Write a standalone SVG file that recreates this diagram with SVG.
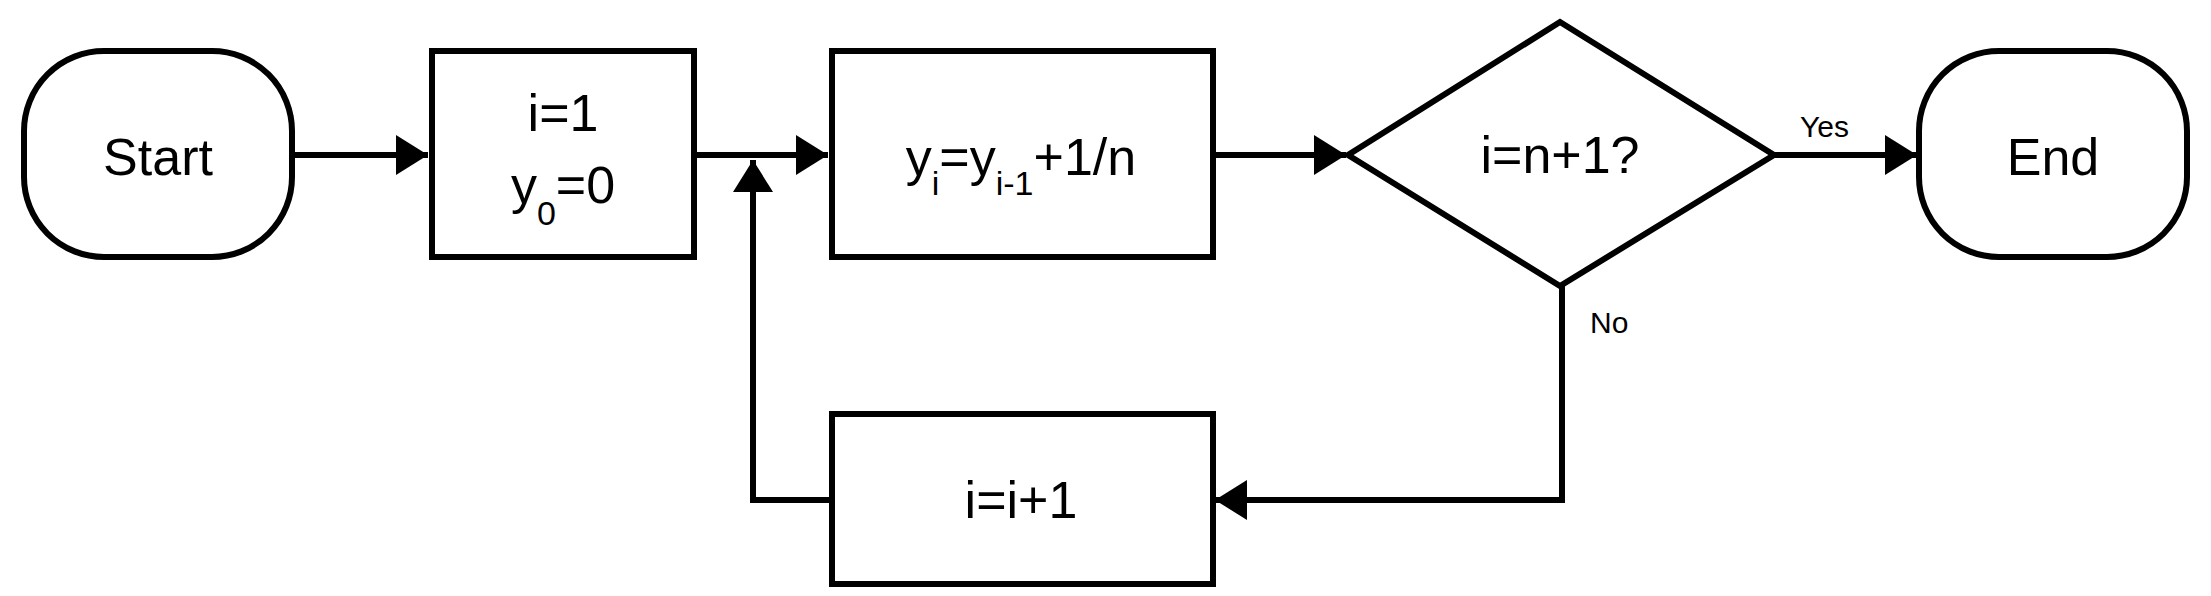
<svg xmlns="http://www.w3.org/2000/svg" width="2211" height="596" viewBox="0 0 2211 596">
<style>
.s{fill:#fff;stroke:#000;stroke-width:6}
.c{fill:none;stroke:#000;stroke-width:6}
text{font-family:"Liberation Sans",Arial,sans-serif;font-size:52px;fill:#000;text-anchor:middle}
.sm{font-size:30px;text-anchor:start}
</style>
<defs><marker id="a" markerUnits="userSpaceOnUse" markerWidth="34" markerHeight="40" refX="32" refY="20" orient="auto"><path d="M0,0L32,20L0,40z" fill="#000"/></marker></defs>
<g id="connectors">
<path class="c" d="M293,155H428" marker-end="url(#a)"/>
<path class="c" d="M694,155H828" marker-end="url(#a)"/>
<path class="c" d="M1213,155H1346" marker-end="url(#a)"/>
<path class="c" d="M1774,155H1917" marker-end="url(#a)"/>
<path class="c" d="M1562,286V500H1215" marker-end="url(#a)"/>
<path class="c" d="M830,500H753V160" marker-end="url(#a)"/>
<text class="sm" x="1800" y="137">Yes</text>
<text class="sm" x="1590" y="333">No</text>
</g>
<g id="start"><rect class="s" x="24" y="51" width="268" height="206" rx="80"/><text x="158" y="175">Start</text></g>
<g id="init"><rect class="s" x="432" y="51" width="262" height="206"/><text x="563" y="131">i=1</text><text x="563" y="203">y<tspan font-size="34" dy="22">0</tspan><tspan dy="-22">=0</tspan></text></g>
<g id="update"><rect class="s" x="832" y="51" width="381" height="206"/><text x="1021" y="175">y<tspan font-size="34" dy="20">i</tspan><tspan dy="-20">=y</tspan><tspan font-size="34" dy="20">i-1</tspan><tspan dy="-20">+1/n</tspan></text></g>
<g id="decision"><polygon class="s" points="1560,22 1774,155 1560,286 1348,155"/><text x="1560" y="173">i=n+1?</text></g>
<g id="end"><rect class="s" x="1919" y="51" width="268" height="206" rx="80"/><text x="2053" y="175">End</text></g>
<g id="incr"><rect class="s" x="832" y="414" width="381" height="170"/><text x="1021" y="518">i=i+1</text></g>
</svg>
